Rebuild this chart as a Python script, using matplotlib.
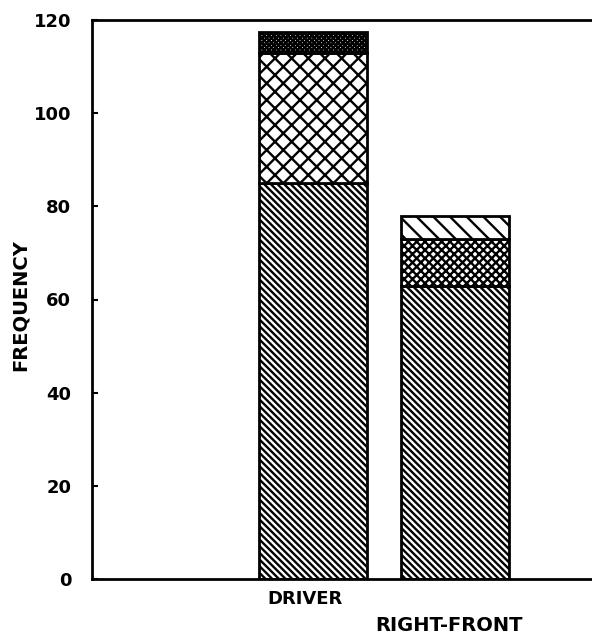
import numpy as np
from matplotlib import pyplot as plt

plt.rcParams['font.family'] = 'DejaVu Sans'
plt.rcParams['font.weight'] = 'bold'
plt.rcParams['hatch.linewidth'] = 1.7

seats = ['DRIVER', 'RIGHT-FRONT']
# stacked segments, bottom to top
seg1 = [85, 63]
seg2 = [28, 10]
seg3 = [4.5, 5]
hatch1 = ['\\' * 5, '\\' * 5]
hatch2 = ['xx', 'xxxx']
hatch3 = ['x' * 7, '\\\\']

fig = plt.figure(figsize=(5.92, 6.42), dpi=100)
ax = fig.add_axes([92 / 592, 63 / 642, 1 - 92 / 592, 559 / 642])

x = np.arange(len(seats))
w = 0.76
bottom = np.zeros(len(seats))
for vals, hatches in [(seg1, hatch1), (seg2, hatch2), (seg3, hatch3)]:
    for i in range(len(seats)):
        ax.bar(x[i], vals[i], w, bottom=bottom[i], color='white',
               edgecolor='black', linewidth=2, hatch=hatches[i])
    bottom += np.array(vals)

ax.set_xlim(-1.556, 1.965)
ax.set_ylim(0, 120)
ax.set_yticks(np.arange(0, 121, 20))
ax.tick_params(axis='y', direction='in', length=4, width=1.5, labelsize=13, pad=15)
ax.set_xticks([])
ax.spines['right'].set_visible(False)
for s in ['left', 'bottom', 'top']:
    ax.spines[s].set_linewidth(2)

ax.text(x[0] - 0.32, -0.02, seats[0], transform=ax.get_xaxis_transform(),
        ha='left', va='top', fontsize=13, fontweight='bold')
ax.text(x[1] - 0.56, -0.067, seats[1], transform=ax.get_xaxis_transform(),
        ha='left', va='top', fontsize=14, fontweight='bold')
ax.set_ylabel('FREQUENCY', fontsize=14, fontweight='bold')
ax.yaxis.set_label_coords(-62 / 500, 0.49)

fig.savefig('out.png', dpi=100)
